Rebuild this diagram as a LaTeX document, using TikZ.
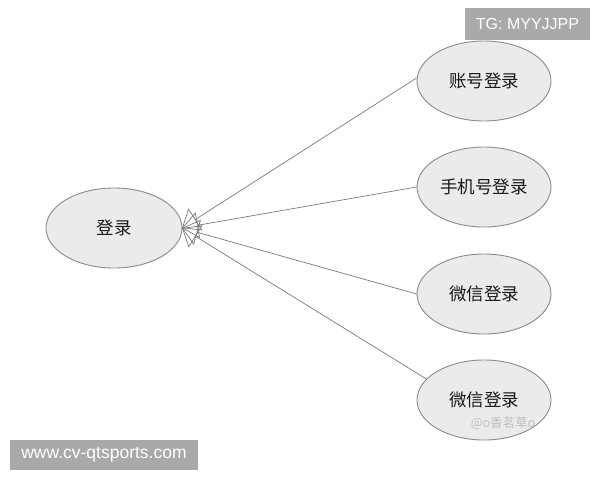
\documentclass[tikz,border=0pt]{standalone}
\usepackage{fontspec}
\setmainfont{Liberation Sans}
\newfontfamily\cjk{Noto Sans CJK SC}
\usetikzlibrary{shapes.geometric,arrows.meta}
\definecolor{ellfill}{HTML}{EBEBEB}
\definecolor{ellline}{HTML}{8A8A8A}
\definecolor{conn}{HTML}{7A7A7A}
\definecolor{wmbox}{HTML}{A9A9A9}
\tikzset{
  usecase/.style={ellipse, draw=ellline, line width=0.9pt, fill=ellfill,
    minimum width=136pt, minimum height=80pt, inner sep=0pt,
    font=\cjk\fontsize{17.5}{19}\selectfont, text=black!90},
  gen/.style={draw=conn, line width=0.7pt,
    -{Triangle[open, length=16pt, width=26pt, line width=0.7pt]}},
  wm/.style={fill=wmbox, text=white, inner sep=0pt}
}
\begin{document}
\begin{tikzpicture}[x=1pt,y=-1pt]
\useasboundingbox[fill=white] (0,0) rectangle (600,480);
\node[usecase] (login) at (114,228) {登录};
\node[usecase, minimum width=134pt] (u1) at (484,81) {账号登录};
\node[usecase, minimum width=134pt] (u2) at (484,187) {手机号登录};
\node[usecase, minimum width=134pt] (u3) at (484,294) {微信登录};
\node[usecase, minimum width=134pt] (u4) at (484,400) {微信登录};
\coordinate (tip) at (182,228);
\draw[gen] (u1.west) ++(0,-3) coordinate (s1) (s1) -- (tip);
\draw[gen] (u2.west) -- (tip);
\draw[gen] (u3.west) -- (tip);
\draw[gen] (u4.160) -- (tip);
\node[wm, minimum width=125pt, minimum height=32pt, font=\fontsize{16}{18}\selectfont] (tg) at (527.5,24) {TG: MYYJJPP};
\node[wm, minimum width=188pt, minimum height=30pt, font=\fontsize{17.5}{19}\selectfont] (web) at (104,455) {www.cv-qtsports.com};
\node[text=black!25, font=\cjk\fontsize{12.5}{14}\selectfont, inner sep=0pt] (mark) at (503,423) {@o香茗草o};
\end{tikzpicture}
\end{document}
